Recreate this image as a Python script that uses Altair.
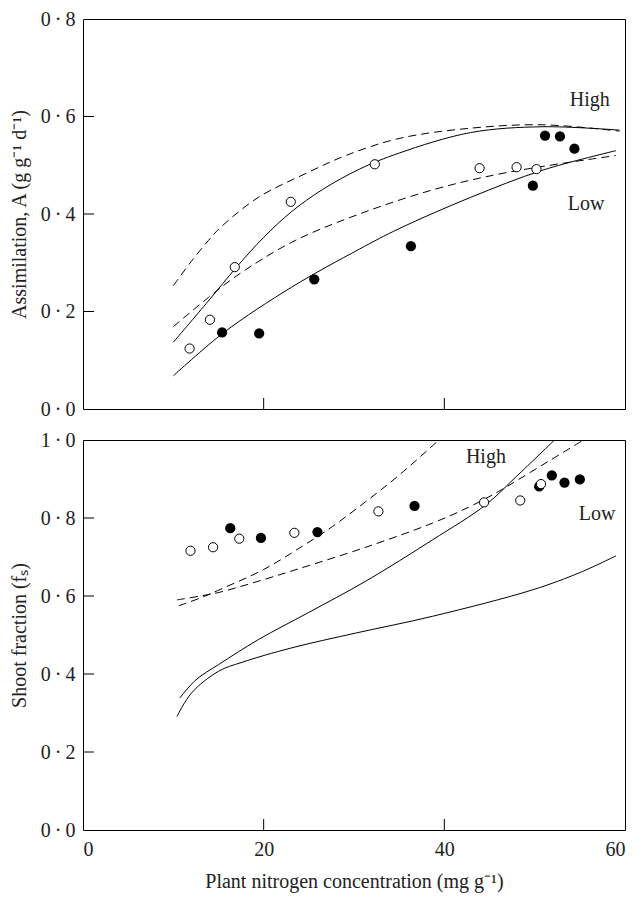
import altair as alt
import pandas as pd

FONT = "Liberation Serif"

# ---------- Top panel: assimilation ----------
top_open_x = [11.8, 14.05, 16.8, 23.0, 32.3, 43.9, 48.0, 50.2]
top_open_y = [0.124, 0.183, 0.291, 0.425, 0.502, 0.494, 0.496, 0.492]
top_filled_x = [15.4, 19.5, 25.6, 36.3, 49.8, 51.15, 52.8, 54.4]
top_filled_y = [0.157, 0.155, 0.266, 0.334, 0.458, 0.561, 0.559, 0.534]

top_high_dash_x = [10.0, 12.0, 13.9, 15.2, 19.4, 25.0, 29.1, 35.0, 42.9, 50.9, 59.4]
top_high_dash_y = [0.253, 0.303, 0.346, 0.372, 0.434, 0.486, 0.520, 0.555, 0.576, 0.583, 0.570]
top_high_solid_x = [10.0, 13.9, 17.0, 20.0, 23.1, 26.5, 30.6, 35.0, 42.9, 50.9, 59.4]
top_high_solid_y = [0.137, 0.222, 0.291, 0.352, 0.405, 0.450, 0.492, 0.525, 0.567, 0.579, 0.572]
top_low_dash_x = [10.0, 13.9, 17.0, 23.1, 30.6, 39.0, 46.9, 59.0]
top_low_dash_y = [0.169, 0.229, 0.273, 0.342, 0.400, 0.451, 0.485, 0.520]
top_low_solid_x = [10.0, 15.6, 23.1, 30.6, 35.0, 42.9, 50.9, 59.0]
top_low_solid_y = [0.068, 0.157, 0.250, 0.328, 0.370, 0.434, 0.490, 0.530]

top_label_text = ["High", "Low"]
top_label_x = [56.1, 55.7]
top_label_y = [0.634, 0.420]

# ---------- Bottom panel: shoot fraction ----------
bot_open_x = [11.9, 14.4, 17.3, 23.4, 32.7, 44.4, 48.4, 50.7]
bot_open_y = [0.716, 0.725, 0.747, 0.762, 0.817, 0.840, 0.845, 0.887]
bot_filled_x = [16.3, 19.7, 25.95, 36.7, 50.5, 51.9, 53.3, 55.0]
bot_filled_y = [0.774, 0.749, 0.764, 0.831, 0.881, 0.909, 0.891, 0.899]

bot_high_dash_x = [10.6, 13.0, 15.2, 20.0, 23.9, 27.6, 31.3, 35.0, 39.4]
bot_high_dash_y = [0.575, 0.595, 0.617, 0.668, 0.722, 0.778, 0.842, 0.910, 1.0]
bot_low_dash_x = [10.4, 13.0, 15.2, 20.0, 23.9, 31.3, 38.7, 42.9, 46.0, 48.1, 51.5, 55.4]
bot_low_dash_y = [0.590, 0.600, 0.610, 0.642, 0.670, 0.725, 0.787, 0.830, 0.868, 0.897, 0.945, 1.0]
bot_high_solid_x = [10.7, 12.5, 15.0, 19.4, 25.0, 31.3, 38.7, 44.6, 48.0, 52.2]
bot_high_solid_y = [0.338, 0.385, 0.424, 0.488, 0.558, 0.638, 0.744, 0.834, 0.907, 1.0]
bot_low_solid_x = [10.4, 12.0, 15.0, 17.6, 23.1, 30.2, 38.7, 49.8, 55.0, 59.0]
bot_low_solid_y = [0.291, 0.351, 0.407, 0.430, 0.467, 0.505, 0.548, 0.616, 0.660, 0.703]

bot_label_text = ["High", "Low"]
bot_label_x = [44.6, 56.9]
bot_label_y = [0.956, 0.811]

x_ticks = [0, 20, 40, 60]
x_inner_ticks = [20, 40]
top_y_ticks = [0.0, 0.2, 0.4, 0.6, 0.8]
top_inner_y = [0.2, 0.4, 0.6]
bot_y_ticks = [0.0, 0.2, 0.4, 0.6, 0.8, 1.0]
bot_inner_y = [0.2, 0.4, 0.6, 0.8]

W, H = 542, 390
TICK = 11
FS = 20


def curves(specs):
    rows = []
    for name, xs, ys in specs:
        for i, (a, b) in enumerate(zip(xs, ys)):
            rows.append({"curve": name, "x": a, "y": b, "order": i})
    return pd.DataFrame(rows)


LABEL_EXPR = "replace(format(datum.value, '.1f'), '.', '\u2009·\u2009')"


def panel(xscale, yscale, xaxis, yaxis, open_x, open_y, filled_x, filled_y,
          dash_specs, solid_specs, lab_t, lab_x, lab_y, inner_y):
    X = lambda f: alt.X(f, type="quantitative", scale=xscale, axis=xaxis)
    Y = lambda f: alt.Y(f, type="quantitative", scale=yscale, axis=yaxis)

    dash = alt.Chart(curves(dash_specs)).mark_line(
        color="black", strokeWidth=1, strokeDash=[8, 5], interpolate="catmull-rom", clip=True
    ).encode(x=X("x"), y=Y("y"), detail="curve:N", order="order:Q")
    solid = alt.Chart(curves(solid_specs)).mark_line(
        color="black", strokeWidth=1, interpolate="catmull-rom", clip=True
    ).encode(x=X("x"), y=Y("y"), detail="curve:N", order="order:Q")

    op = alt.Chart(pd.DataFrame({"x": open_x, "y": open_y})).mark_point(
        shape="circle", size=85, filled=True, fill="white", stroke="black",
        strokeWidth=1, opacity=1
    ).encode(x=X("x"), y=Y("y"))
    fi = alt.Chart(pd.DataFrame({"x": filled_x, "y": filled_y})).mark_point(
        shape="circle", size=105, filled=True, color="black", opacity=1
    ).encode(x=X("x"), y=Y("y"))

    labels = alt.Chart(pd.DataFrame({"t": lab_t, "x": lab_x, "y": lab_y})).mark_text(
        font=FONT, fontSize=FS, color="#222222"
    ).encode(x=X("x"), y=Y("y"), text="t:N")

    yt = alt.Chart(pd.DataFrame({"v": inner_y})).mark_rule(color="black", strokeWidth=1).encode(
        y=Y("v"), x=alt.value(0), x2=alt.value(TICK)
    )
    xt = alt.Chart(pd.DataFrame({"v": x_inner_ticks})).mark_rule(color="black", strokeWidth=1).encode(
        x=X("v"), y=alt.value(H), y2=alt.value(H - TICK)
    )
    return alt.layer(dash, solid, fi, op, labels, yt, xt).properties(width=W, height=H)


xs = alt.Scale(domain=[0, 60], nice=False, zero=False)

top = panel(
    xs,
    alt.Scale(domain=[0, 0.8], nice=False),
    None,
    alt.Axis(values=top_y_ticks, labelExpr=LABEL_EXPR, ticks=False, domain=False, grid=False,
             title="Assimilation, A (g g⁻¹ d⁻¹)", labelPadding=8, titlePadding=11),
    top_open_x, top_open_y, top_filled_x, top_filled_y,
    [("hd", top_high_dash_x, top_high_dash_y), ("ld", top_low_dash_x, top_low_dash_y)],
    [("hs", top_high_solid_x, top_high_solid_y), ("ls", top_low_solid_x, top_low_solid_y)],
    top_label_text, top_label_x, top_label_y, top_inner_y,
)

bottom = panel(
    xs,
    alt.Scale(domain=[0, 1.0], nice=False),
    alt.Axis(values=x_ticks, format="d", ticks=False, domain=False, grid=False,
             title="Plant nitrogen concentration (mg g⁻¹)", labelPadding=9, titlePadding=12),
    alt.Axis(values=bot_y_ticks, labelExpr=LABEL_EXPR, ticks=False, domain=False, grid=False,
             title="Shoot fraction (fₛ)", labelPadding=8, titlePadding=11),
    bot_open_x, bot_open_y, bot_filled_x, bot_filled_y,
    [("hd", bot_high_dash_x, bot_high_dash_y), ("ld", bot_low_dash_x, bot_low_dash_y)],
    [("hs", bot_high_solid_x, bot_high_solid_y), ("ls", bot_low_solid_x, bot_low_solid_y)],
    bot_label_text, bot_label_x, bot_label_y, bot_inner_y,
)

chart = alt.vconcat(top, bottom, spacing=9).resolve_scale(y="independent").properties(
    padding={"left": 0, "top": 0, "right": 2, "bottom": 2}
).configure_view(stroke="black", strokeWidth=1).configure_axis(
    labelFont=FONT, titleFont=FONT, labelFontSize=FS, titleFontSize=FS,
    labelColor="#222222", titleColor="#222222", titleFontWeight="normal"
)

chart.save("out.html", embed_options={"renderer": "svg", "actions": False})
